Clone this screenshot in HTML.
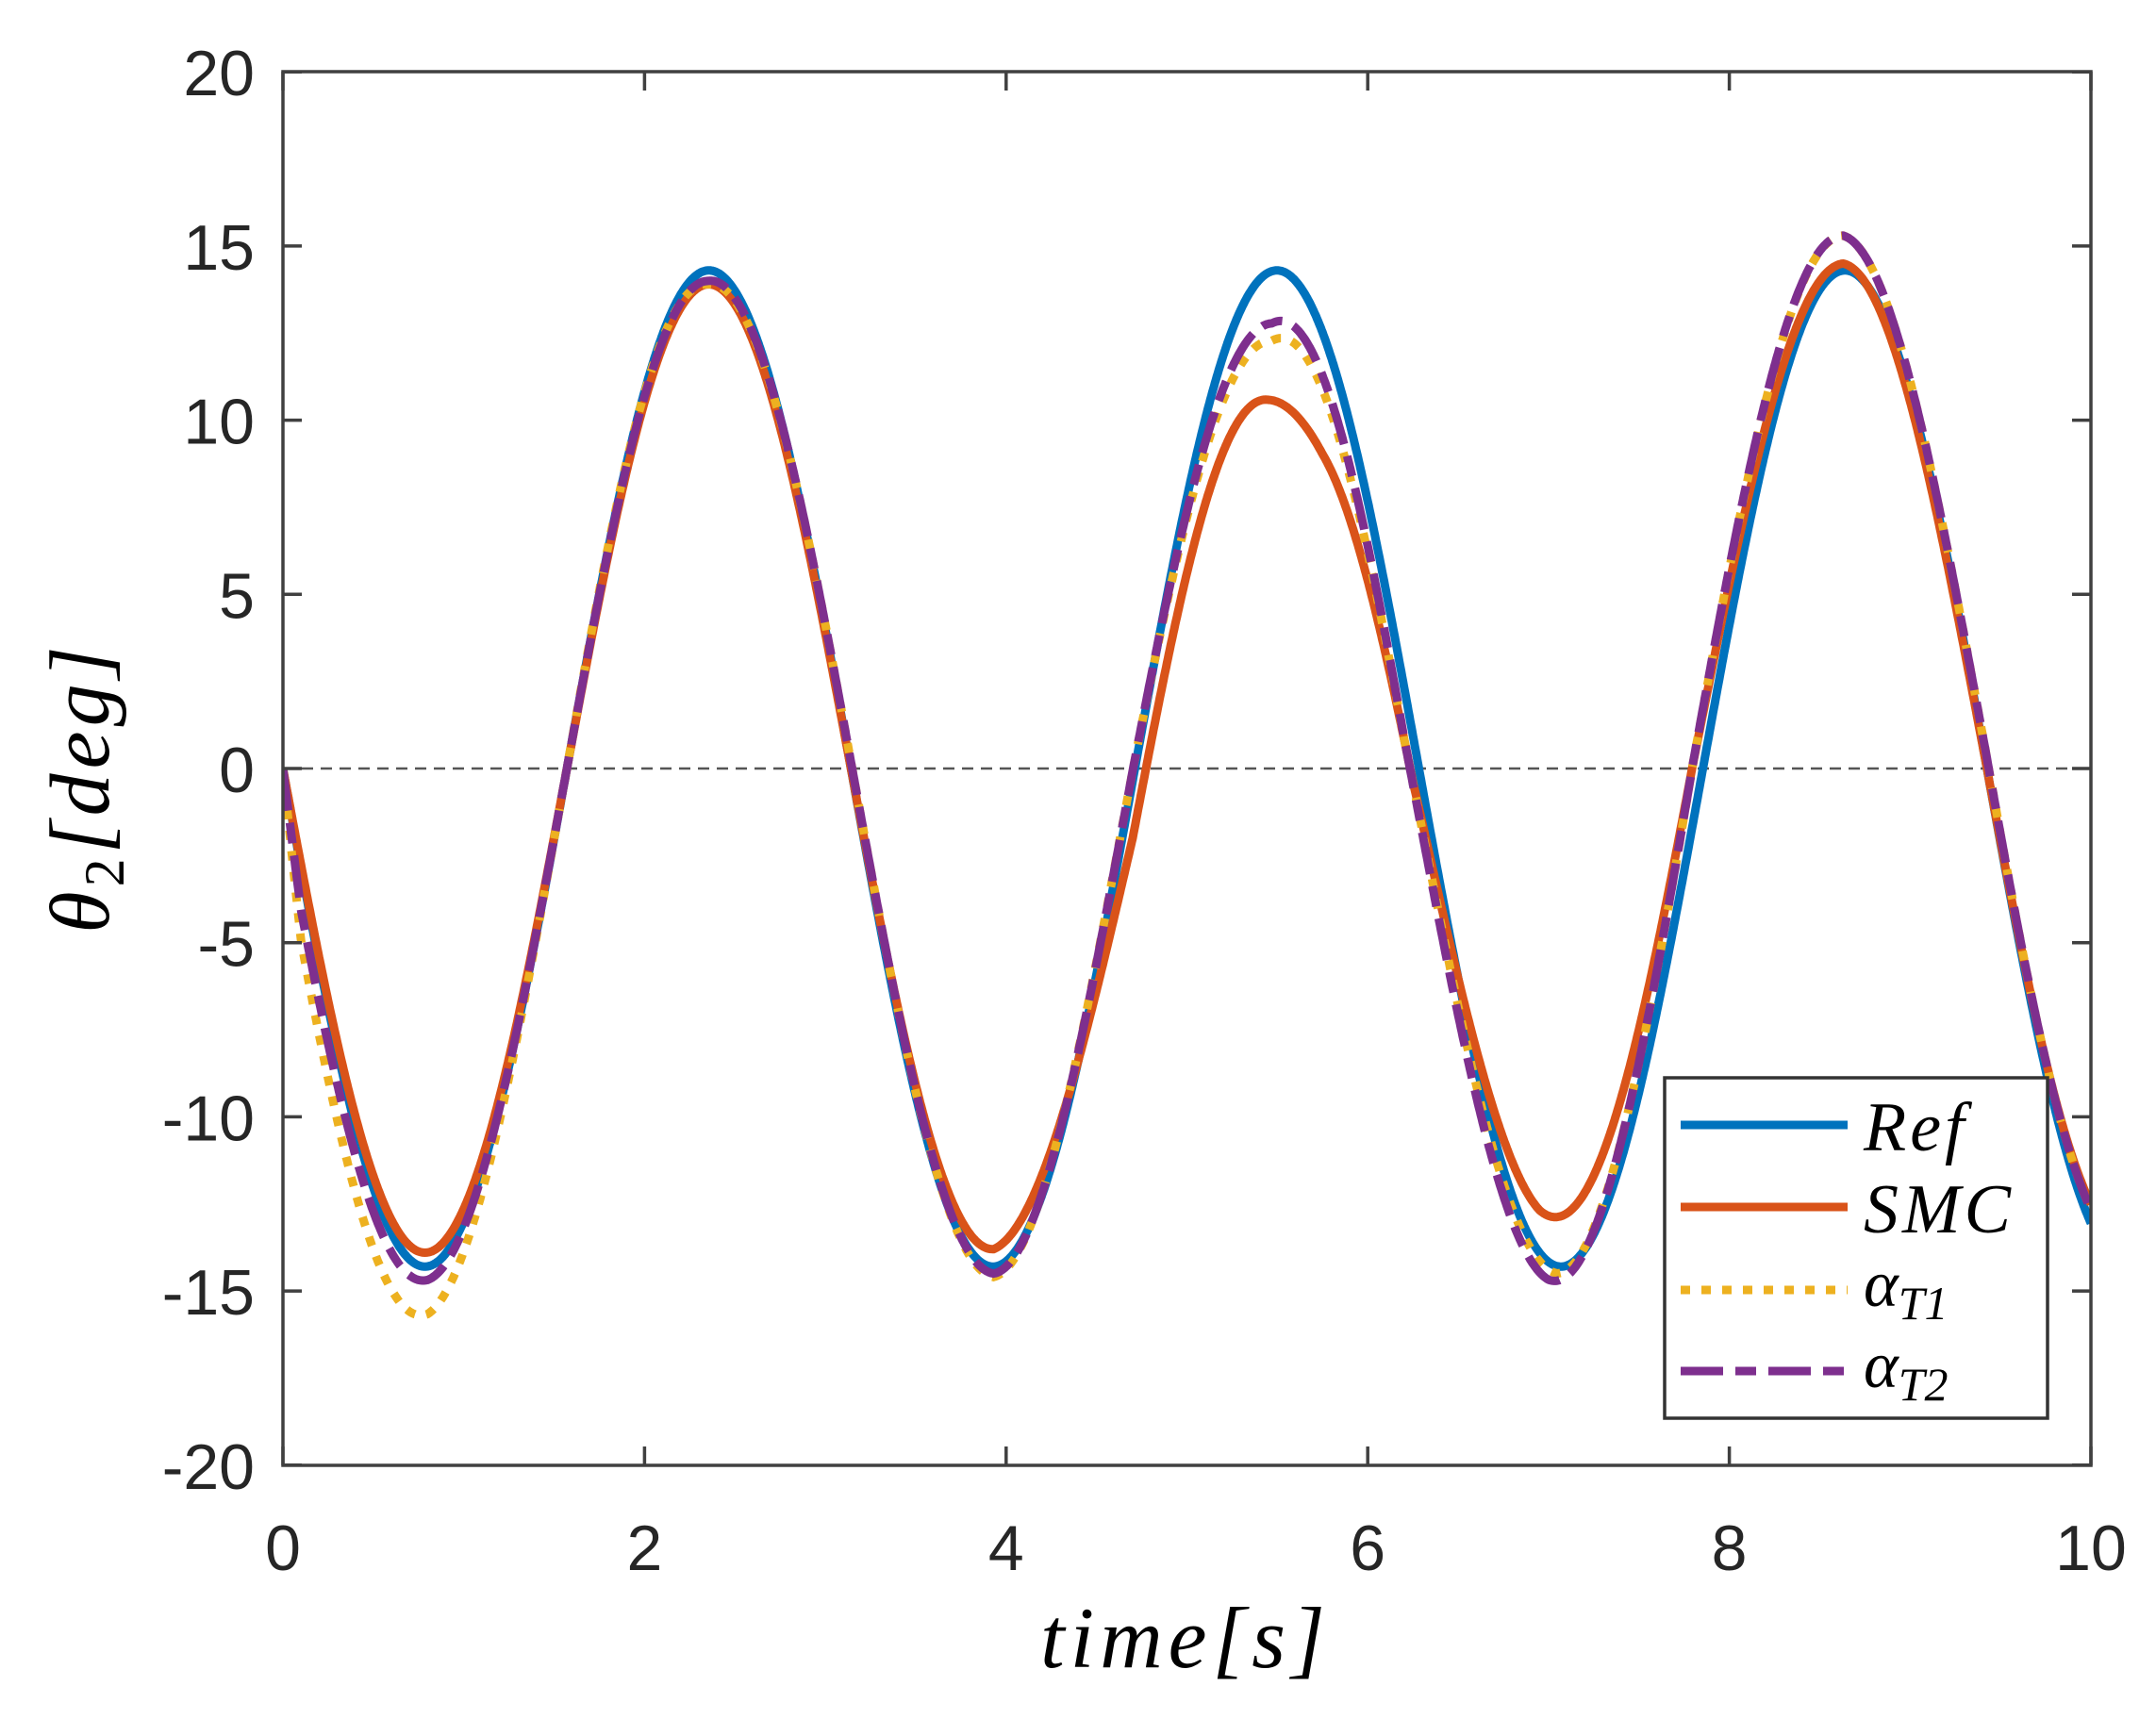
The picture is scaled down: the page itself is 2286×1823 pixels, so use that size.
<!DOCTYPE html>
<html><head><meta charset="utf-8"><style>
html,body{margin:0;padding:0;background:#fff;}
svg{display:block}
.tk{font-family:"Liberation Sans",sans-serif;font-size:68px;fill:#262626}
.it{font-family:"Liberation Serif",serif;font-style:italic;fill:#000}
</style></head><body>
<svg id="s" width="2286" height="1823" viewBox="0 0 2286 1823" xmlns="http://www.w3.org/2000/svg">
<defs><clipPath id="c"><rect x="300" y="76" width="1917" height="1478"/></clipPath></defs>
<rect width="2286" height="1823" fill="#fff"/>
<line x1="300" y1="815" x2="2217" y2="815" stroke="#555" stroke-width="2.5" stroke-dasharray="12 8"/>
<g id="curves" clip-path="url(#c)"></g>
<g id="ticks"></g>
<rect x="300" y="76" width="1917" height="1478" fill="none" stroke="#404040" stroke-width="3.5"/>
<g id="labels"></g>
<text class="it" font-size="92" x="1257" y="1768" text-anchor="middle" letter-spacing="6">time[s]</text>
<text class="it" font-size="90" transform="translate(115,835) rotate(-90)" text-anchor="middle" letter-spacing="5">θ<tspan font-size="60" dy="16" font-style="normal">2</tspan><tspan dy="-16">[deg]</tspan></text>
<rect x="1765" y="1143" width="406" height="361" fill="#fff" stroke="#333" stroke-width="3.5"/>
<line x1="1782" y1="1193" x2="1959" y2="1193" stroke="#0072BD" stroke-width="9"/>
<line x1="1782" y1="1280" x2="1959" y2="1280" stroke="#D95319" stroke-width="9"/>
<line x1="1782" y1="1368" x2="1959" y2="1368" stroke="#EDB120" stroke-width="9" stroke-dasharray="10 12"/>
<line x1="1782" y1="1454" x2="1959" y2="1454" stroke="#7E2F8E" stroke-width="9" stroke-dasharray="45 13 22 13"/>
<text class="it" font-size="74" x="1976" y="1220" letter-spacing="4">Ref</text>
<text class="it" font-size="74" x="1976" y="1307" letter-spacing="4">SMC</text>
<text class="it" font-size="70" x="1976" y="1385">α<tspan font-size="50" dy="14">T1</tspan></text>
<text class="it" font-size="70" x="1976" y="1471">α<tspan font-size="50" dy="14">T2</tspan></text>
</svg>
<script>
const X=t=>300+t*191.7, Y=v=>815-v*36.94;
const ns="http://www.w3.org/2000/svg";
function interp(k,t){for(let i=0;i<k.length-1;i++){if(t<=k[i+1][0]){const [a,va]=k[i],[b,vb]=k[i+1];return va+(vb-va)*(t-a)/(b-a);}}return k[k.length-1][1];}
function path(A,D,col,dash){let d="";for(let i=0;i<=2000;i++){const t=i/200;const v=-interp(A,t)*Math.sin(2*(t-interp(D,t)));d+=(i?"L":"M")+X(t).toFixed(1)+","+Y(v).toFixed(1);}
const p=document.createElementNS(ns,"path");p.setAttribute("d",d);p.setAttribute("fill","none");p.setAttribute("stroke",col);p.setAttribute("stroke-width","9");if(dash)p.setAttribute("stroke-dasharray",dash);document.getElementById("curves").appendChild(p);}
path([[0,14.3],[10,14.3]],[[0,0],[10,0]],"#0072BD");
path([[0,13.9],[2.35,13.9],[3.93,13.8],[5.45,10.6],[5.75,10.2],[6.95,12.8],[8.63,14.5],[10,13.7]],
 [[0,0],[3.9,0],[4.7,0.07],[5.45,-0.02],[5.75,0.01],[6.25,-0.05],[7.0,-0.05],[7.8,-0.06],[8.6,-0.02],[9.42,0],[10,0]],"#D95319");
path([[0,15.7],[0.8,15.7],[2.35,13.9],[3.93,14.6],[5.47,12.3],[7.05,14.5],[8.63,15.3],[10,14.0]],
 [[0,0],[0.1,-0.06],[0.8,-0.02],[1.6,0],[3.9,0.01],[4.7,-0.01],[5.5,0],[6.2,-0.05],[7.0,-0.03],[7.8,-0.06],[8.6,-0.02],[9.42,0.01],[10,0.01]],"#EDB120","10 12");
path([[0,14.7],[0.8,14.7],[2.35,14.0],[3.93,14.5],[5.47,12.8],[7.0,14.7],[8.63,15.3],[10,14.0]],
 [[0,0],[0.1,-0.04],[0.8,-0.01],[1.6,0],[3.9,0.01],[4.7,-0.01],[5.5,0],[6.2,-0.05],[7.0,-0.04],[7.8,-0.06],[8.6,-0.02],[9.42,0.01],[10,0.01]],"#7E2F8E","45 13 22 13");
const tk=document.getElementById("ticks"),lb=document.getElementById("labels");
function ln(x1,y1,x2,y2){const l=document.createElementNS(ns,"line");l.setAttribute("x1",x1);l.setAttribute("y1",y1);l.setAttribute("x2",x2);l.setAttribute("y2",y2);l.setAttribute("stroke","#404040");l.setAttribute("stroke-width","3.5");tk.appendChild(l);}
function tx(x,y,s,a){const t=document.createElementNS(ns,"text");t.setAttribute("x",x);t.setAttribute("y",y);t.setAttribute("class","tk");t.setAttribute("text-anchor",a);t.textContent=s;lb.appendChild(t);}
for(let t=0;t<=10;t+=2){const x=X(t);ln(x,1554,x,1534);ln(x,76,x,96);tx(x,1665,String(t),"middle");}
for(let v=-20;v<=20;v+=5){const y=Y(v);ln(300,y,320,y);ln(2217,y,2197,y);tx(270,y+25,String(v),"end");}
</script>
</body></html>
